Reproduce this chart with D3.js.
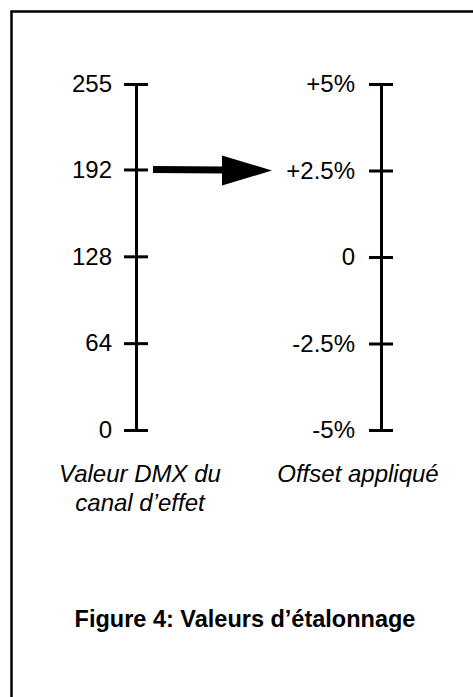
<!DOCTYPE html>
<html lang="fr">
<head>
    <meta charset="UTF-8">
    <title>Figure 4: Valeurs d'étalonnage</title>
    <script src="https://d3js.org/d3.v7.min.js"></script>
    <style>
        body { margin: 0; background: #fff; }
        svg { display: block; }
        .axis text {
            font: 24px "Liberation Sans", Arial, Helvetica, sans-serif;
            fill: #000;
        }
        .axis path,
        .axis line {
            stroke: #000;
            stroke-width: 3;
            fill: none;
        }
        .caption {
            font: italic 24px "Liberation Sans", Arial, Helvetica, sans-serif;
            text-anchor: middle;
        }
        .title {
            font: bold 23.5px "Liberation Sans", Arial, Helvetica, sans-serif;
            text-anchor: middle;
        }
    </style>
</head>
<body>
<script>
// Data
const dmxTicks = [0, 64, 128, 192, 255];
const offsetTicks = [-5, -2.5, 0, 2.5, 5];
const offsetLabels = ["-5%", "-2.5%", "0", "+2.5%", "+5%"];
const arrowFrom = 192;   // DMX value
const arrowTo = 2.5;     // offset %
const leftCaption = ["Valeur DMX du", "canal d\u2019effet"];
const rightCaption = ["Offset appliqu\u00e9"];
const title = "Figure 4: Valeurs d\u2019\u00e9talonnage";

const width = 473, height = 697;

const svg = d3.select("body").append("svg")
    .attr("width", width)
    .attr("height", height);

// Frame (only top and left edges visible)
svg.append("path")
    .attr("d", `M11.5,${height} V11.5 H${width}`)
    .attr("fill", "none")
    .attr("stroke", "#000")
    .attr("stroke-width", 2.5);

// Scales
const yDmx = d3.scaleLinear().domain([0, 255]).range([430, 84]);
const yOff = d3.scaleLinear().domain([-5, 5]).range([430, 84]);

const xLeft = 136, xRight = 381;

// Left axis (DMX)
const gl = svg.append("g").attr("class", "axis").attr("transform", `translate(${xLeft},0)`);
gl.call(d3.axisLeft(yDmx).tickValues(dmxTicks).tickSize(12).tickSizeOuter(0).tickPadding(12).tickFormat(d3.format("d")));
gl.append("g").call(d3.axisRight(yDmx).tickValues(dmxTicks).tickSize(12).tickSizeOuter(0).tickFormat(""))
    .select(".domain").remove();
gl.selectAll("text").attr("fill", "#000");

// Right axis (offset)
const gr = svg.append("g").attr("class", "axis").attr("transform", `translate(${xRight},0)`);
gr.call(d3.axisLeft(yOff).tickValues(offsetTicks).tickSize(12).tickSizeOuter(0).tickPadding(14)
    .tickFormat(d => offsetLabels[offsetTicks.indexOf(d)]));
gr.append("g").call(d3.axisRight(yOff).tickValues(offsetTicks).tickSize(12).tickSizeOuter(0).tickFormat(""))
    .select(".domain").remove();
gr.selectAll("text").attr("fill", "#000");

// Arrow from DMX 192 to +2.5%
const ay1 = yDmx(arrowFrom), ay2 = yOff(arrowTo);
const x0 = 153, xHead = 222, xTip = 272;
svg.append("line")
    .attr("x1", x0).attr("y1", ay1)
    .attr("x2", xHead + 2).attr("y2", ay1 + (ay2 - ay1) * (xHead - x0) / (xTip - x0))
    .attr("stroke", "#000")
    .attr("stroke-width", 7);
svg.append("path")
    .attr("d", `M${xHead},${ay2 - 15} L${xTip},${ay2} L${xHead},${ay2 + 15} Z`)
    .attr("fill", "#000");

// Captions
svg.append("text").attr("class", "caption")
    .attr("x", 140).attr("y", 482)
    .selectAll("tspan").data(leftCaption).join("tspan")
    .attr("x", 140).attr("dy", (d, i) => i ? 29 : 0)
    .text(d => d);
svg.append("text").attr("class", "caption")
    .attr("x", 358).attr("y", 482)
    .text(rightCaption[0]);

// Title
svg.append("text").attr("class", "title")
    .attr("x", 245).attr("y", 627)
    .text(title);
</script>
</body>
</html>
